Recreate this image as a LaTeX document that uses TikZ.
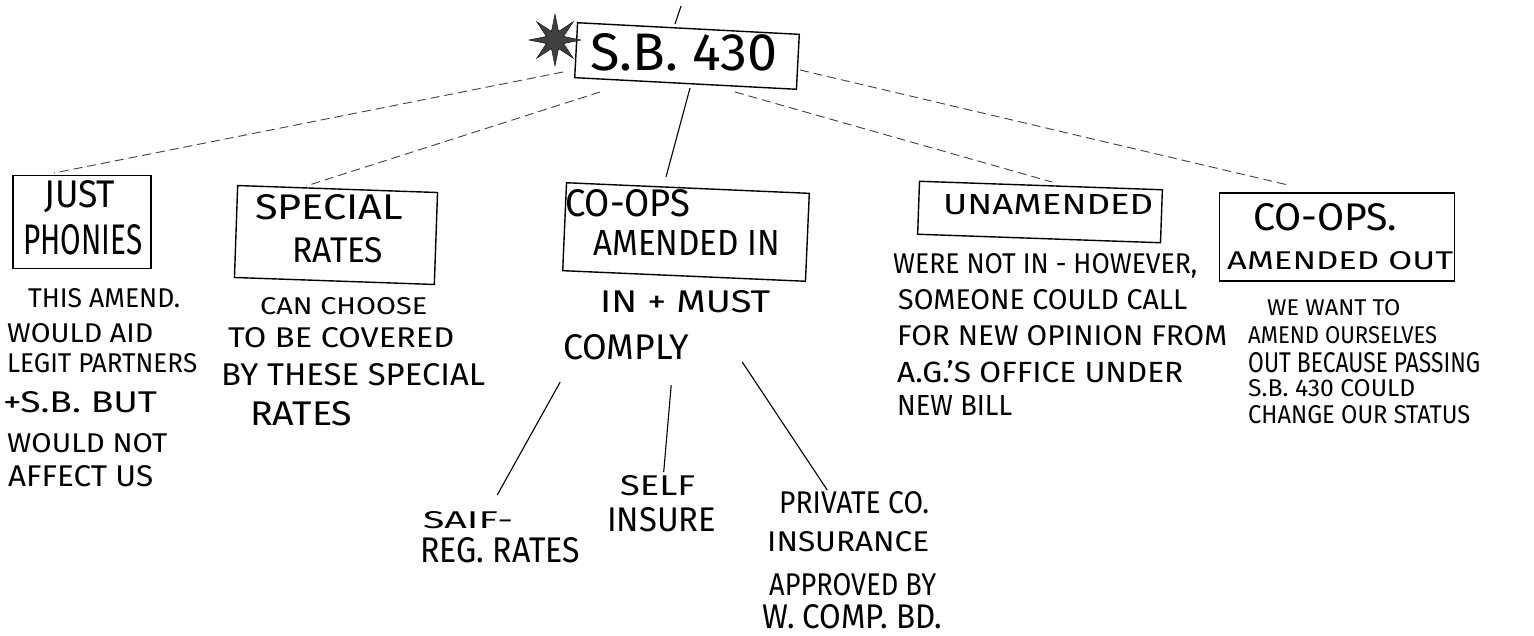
\documentclass[tikz,border=0pt]{standalone}
\usepackage{fontspec}
\setmainfont{Fira Sans}
\usepackage{graphicx}
\usetikzlibrary{shapes.geometric}
\newcommand\hw[3]{\resizebox{#1pt}{#2pt}{#3}}
\begin{document}
\begin{tikzpicture}[x=1pt,y=-1pt,
  box/.style={draw,line width=1.4pt,inner sep=0pt},
  txt/.style={anchor=west,inner sep=0pt},
  link/.style={line width=1.1pt},
  dlink/.style={line width=0.9pt,black!75,dash pattern=on 9pt off 5pt}]
\useasboundingbox (0,0) rectangle (1534,635);

% boxes
\node[box,rotate=-3,minimum width=222pt,minimum height=55pt] (sb) at (687,56) {};
\node[star,star points=8,star point ratio=2.8,fill=black!75,draw=black,minimum size=52pt,inner sep=0pt] (star) at (555,40) {};
\node[box,minimum width=138pt,minimum height=93pt] (jp) at (82,222) {};
\node[box,rotate=-2,minimum width=200pt,minimum height=92pt] (sp) at (336,235) {};
\node[box,rotate=-2.5,minimum width=243pt,minimum height=88pt] (ci) at (686,232) {};
\node[box,rotate=-2,minimum width=243pt,minimum height=53pt] (un) at (1040,212) {};
\node[box,minimum width=235pt,minimum height=88pt] (co) at (1337,237) {};

% box texts
\node[txt] (tsb) at (590,52) {\hw{187}{37}{S.B. 430}};
\node[txt] (tjp1) at (44,197) {\hw{71}{27}{JUST}};
\node[txt] (tjp2) at (23,240) {\hw{119}{30}{PHONIES}};
\node[txt] (tsp1) at (255,207) {\hw{148}{25}{SPECIAL}};
\node[txt] (tsp2) at (292,250) {\hw{91}{25}{RATES}};
\node[txt] (tci1) at (565,203) {\hw{125}{27}{CO-OPS}};
\node[txt] (tci2) at (593,243) {\hw{187}{25}{AMENDED IN}};
\node[txt] (tun) at (943,205) {\hw{210}{20}{UNAMENDED}};
\node[txt] (tco1) at (1253,217) {\hw{144}{27}{CO-OPS.}};
\node[txt] (tco2) at (1227,261) {\hw{226}{18}{AMENDED OUT}};

% notes under Just Phonies
\node[txt] (njp1) at (28,298) {\hw{152}{19}{THIS AMEND.}};
\node[txt] (njp2) at (7,333) {\hw{146}{19}{WOULD AID}};
\node[txt] (njp3) at (7,363) {\hw{190}{19}{LEGIT PARTNERS}};
\node[txt] (njp4) at (3,402) {\hw{154}{21}{+S.B. BUT}};
\node[txt] (njp5) at (7,443) {\hw{160}{19}{WOULD NOT}};
\node[txt] (njp6) at (8,476) {\hw{145}{21}{AFFECT US}};

% notes under Special Rates
\node[txt] (nsp1) at (260,306) {\hw{167}{17}{CAN CHOOSE}};
\node[txt] (nsp2) at (228,338) {\hw{226}{20}{TO BE COVERED}};
\node[txt] (nsp3) at (221,375) {\hw{264}{22}{BY THESE SPECIAL}};
\node[txt] (nsp4) at (250,414) {\hw{102}{24}{RATES}};

% notes under Co-ops amended in
\node[txt] (nci1) at (600,302) {\hw{170}{22}{IN + MUST}};
\node[txt] (comply) at (563,347) {\hw{126}{25}{COMPLY}};

% leaves
\node[txt] (saif) at (423,520) {\hw{90}{17}{SAIF-}};
\node[txt] (reg) at (420,550) {\hw{160}{25}{REG. RATES}};
\node[txt] (self) at (620,486) {\hw{75}{20}{SELF}};
\node[txt] (ins) at (607,520) {\hw{109}{24}{INSURE}};
\node[txt] (priv) at (779,503) {\hw{150}{22}{PRIVATE CO.}};
\node[txt] (priv2) at (767,542) {\hw{162}{20}{INSURANCE}};
\node[txt] (priv3) at (769,585) {\hw{167}{22}{APPROVED BY}};
\node[txt] (priv4) at (762,617) {\hw{180}{24}{W. COMP. BD.}};

% notes under Unamended
\node[txt] (nun1) at (893,266) {\hw{304}{20}{WERE NOT IN - HOWEVER,}};
\node[txt] (nun2) at (898,300) {\hw{289}{20}{SOMEONE COULD CALL}};
\node[txt] (nun3) at (897,336) {\hw{330}{20}{FOR NEW OPINION FROM}};
\node[txt] (nun4) at (897,372) {\hw{286}{22}{A.G.'S OFFICE UNDER}};
\node[txt] (nun5) at (897,405) {\hw{115}{20}{NEW BILL}};

% notes under Co-ops amended out
\node[txt] (nco1) at (1267,308) {\hw{133}{16}{WE WANT TO}};
\node[txt] (nco2) at (1248,335) {\hw{189}{17}{AMEND OURSELVES}};
\node[txt] (nco3) at (1248,363) {\hw{232}{20}{OUT BECAUSE PASSING}};
\node[txt] (nco4) at (1248,388) {\hw{167}{17}{S.B. 430 COULD}};
\node[txt] (nco5) at (1248,415) {\hw{222}{18}{CHANGE OUR STATUS}};

% connectors
\draw[link] ([shift={(-12,-32)}]sb.center) -- ([shift={(-6,-50)}]sb.center);
\draw[dlink] ([shift={(-124,16)}]sb.center) -- ([shift={(-28,-49)}]jp.center);
\draw[dlink] ([shift={(-87,36)}]sb.center) -- ([shift={(-30,-49)}]sp.center);
\draw[link] ([shift={(3,32)}]sb.center) -- ([shift={(-20,-55)}]ci.center);
\draw[dlink] ([shift={(48,36)}]sb.center) -- ([shift={(12,-30)}]un.center);
\draw[dlink] ([shift={(113,14)}]sb.center) -- ([shift={(-49,-52)}]co.center);

\draw[link] ([shift={(-66,35)}]comply.center) -- ([shift={(29,-25)}]saif.center);
\draw[link] ([shift={(45,38)}]comply.center) -- ([shift={(6,-14)}]self.center);
\draw[link] ([shift={(116,15)}]comply.center) -- ([shift={(-27,-13)}]priv.center);
\end{tikzpicture}
\end{document}
